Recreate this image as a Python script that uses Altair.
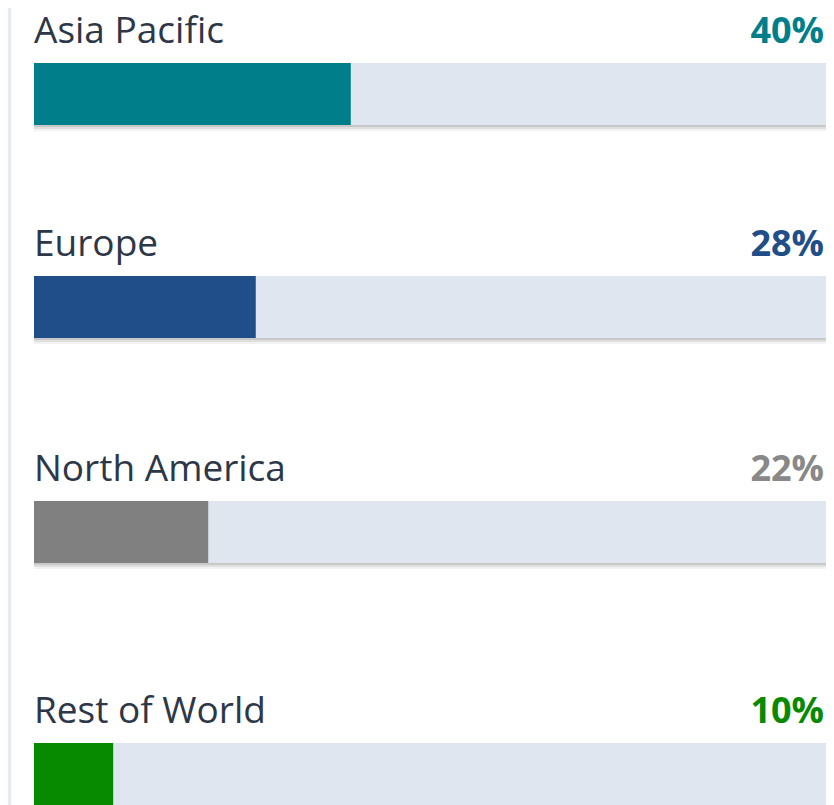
import altair as alt
import pandas as pd

regions = ["Asia Pacific", "Europe", "North America", "Rest of World"]
shares = [40, 28, 22, 10]
share_labels = ["40%", "28%", "22%", "10%"]
bar_colors = ["#007F8B", "#1F4E89", "#808080", "#088A00"]
label_colors = ["#007F8B", "#1F4E89", "#888888", "#088A00"]
full_scale = [100, 100, 100, 100]

panel_heights = [213, 225, 242, 117]

df = pd.DataFrame({
    "region": regions,
    "share": shares,
    "label": share_labels,
    "bar_color": bar_colors,
    "label_color": label_colors,
    "full": full_scale,
})

W = 792
FONT = "Open Sans"
BAR_TOP = 55
BAR_BOT = 117

xscale = alt.Scale(domain=[0, 100], range=[0, W])


def panel(i, h):
    base = alt.Chart(df).transform_filter(alt.datum.region == regions[i])
    layers = []
    # soft drop shadow under the track
    for dy, op in [(2, 0.10), (4, 0.08), (6, 0.05)]:
        layers.append(
            base.mark_rect(color="#000000", opacity=op, clip=True,
                           y2Offset=dy, xOffset=2)
            .encode(
                x=alt.X("full:Q", scale=xscale, axis=None),
                x2=alt.datum(0),
                y=alt.value(BAR_TOP + 2),
                y2=alt.value(BAR_BOT),
            )
        )
    track = base.mark_rect(color="#E0E6EF", clip=True).encode(
        x=alt.X("full:Q", scale=xscale, axis=None),
        x2=alt.datum(0),
        y=alt.value(BAR_TOP),
        y2=alt.value(BAR_BOT),
    )
    bar = base.mark_rect(clip=True).encode(
        x=alt.X("share:Q", scale=xscale, axis=None),
        x2=alt.datum(0),
        y=alt.value(BAR_TOP),
        y2=alt.value(BAR_BOT),
        color=alt.Color("bar_color:N", scale=None, legend=None),
    )
    name = base.mark_text(align="left", baseline="alphabetic", font=FONT,
                          fontSize=37, color="#2D3748").encode(
        x=alt.value(0), y=alt.value(35), text="region:N"
    )
    pct = base.mark_text(align="right", baseline="alphabetic", font=FONT,
                         fontSize=36, fontWeight="bold").encode(
        x=alt.value(W - 2), y=alt.value(35), text="label:N",
        color=alt.Color("label_color:N", scale=None, legend=None),
    )
    side = base.mark_rect(color="#E6EAF0").encode(
        x=alt.value(-26), x2=alt.value(-23), y=alt.value(0), y2=alt.value(h)
    )
    layers += [track, bar, name, pct, side]
    return alt.layer(*layers).properties(width=W, height=h)


chart = alt.vconcat(
    *[panel(i, h) for i, h in enumerate(panel_heights)], spacing=0
).properties(
    padding={"left": 0, "top": 0, "right": 0, "bottom": 0},
    background="white",
).configure_view(stroke=None)

chart.save("out.html", embed_options={"renderer": "svg", "actions": False})
